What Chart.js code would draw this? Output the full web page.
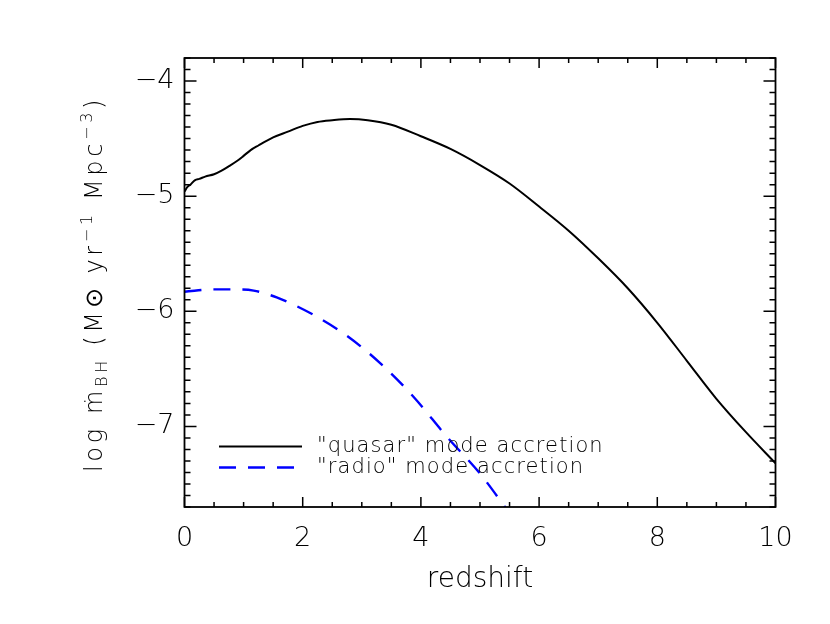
<!DOCTYPE html>
<html><head><meta charset="utf-8">
<script src="https://cdn.jsdelivr.net/npm/chart.js@4.4.1/dist/chart.umd.min.js"></script>
<style>html,body{margin:0;padding:0;background:#fff}canvas{display:block}</style>
</head><body>
<canvas id="c" width="830" height="624"></canvas>
<script>
// ---- data ----
const redshiftQuasar = [0.00,0.05,0.10,0.18,0.25,0.35,0.50,0.62,0.75,0.90,1.00,1.12,1.25,1.50,1.75,2.00,2.25,2.50,2.80,3.10,3.50,4.00,4.50,5.00,5.50,6.00,6.50,7.00,7.50,8.00,8.50,9.00,9.50,10.00];
const logRateQuasar  = [-4.96,-4.92,-4.90,-4.86,-4.85,-4.83,-4.81,-4.78,-4.74,-4.69,-4.65,-4.60,-4.56,-4.49,-4.44,-4.39,-4.355,-4.34,-4.33,-4.34,-4.38,-4.48,-4.59,-4.73,-4.89,-5.09,-5.30,-5.54,-5.80,-6.10,-6.43,-6.76,-7.05,-7.32];
const redshiftRadio  = [0.00,0.50,0.88,1.17,1.56,2.18,2.74,3.31,3.87,4.44,5.00,5.48];
const logRateRadio   = [-5.83,-5.81,-5.81,-5.82,-5.88,-6.03,-6.21,-6.45,-6.74,-7.09,-7.41,-7.74];
const seriesLabels   = ['"quasar" mode accretion', '"radio" mode accretion'];
const xTickValues    = [0,2,4,6,8,10];
const yTickValues    = [-7,-6,-5,-4];
const xTitleText     = 'redshift';
const yTitleParts    = [['log ṁ','n'],['BH','sub'],[' (M⊙ yr','n'],['−1','sup'],[' Mpc','n'],['−3','sup'],[')','n']];

const FAMILY = "'DejaVu Sans', sans-serif";
const WEIGHT = 200;

function pts(xs, ys){ return xs.map((x,i)=>({x:x, y:ys[i]})); }

// frame + inward ticks on all four sides (IDL style)
const frameTicks = {
  id:'frameTicks',
  afterDatasetsDraw(chart){
    const {ctx, chartArea:a, scales:{x,y}} = chart;
    ctx.save();
    ctx.strokeStyle='#000'; ctx.lineWidth=1.8; ctx.lineCap='butt';
    ctx.strokeRect(a.left, a.top, a.right-a.left, a.bottom-a.top);
    ctx.lineWidth=1.5;
    ctx.beginPath();
    for(let k=0;k<=20;k++){
      const px=x.getPixelForValue(k*0.5); const len=(k%4===0)?10:5;
      ctx.moveTo(px,a.bottom); ctx.lineTo(px,a.bottom-len);
      ctx.moveTo(px,a.top); ctx.lineTo(px,a.top+len);
    }
    for(let k=-77;k<=-38;k++){
      const py=y.getPixelForValue(k/10); const len=(k%10===0)?12:6;
      ctx.moveTo(a.left,py); ctx.lineTo(a.left+len,py);
      ctx.moveTo(a.right,py); ctx.lineTo(a.right-len,py);
    }
    ctx.stroke();
    ctx.restore();
  }
};

// legend inside the plot, lower left
const innerLegend = {
  id:'innerLegend',
  afterDraw(chart){
    const ctx=chart.ctx;
    const x0=219, x1=302, tx=317, rows=[446.5,467.5];
    ctx.save();
    ctx.font=WEIGHT+' 21px '+FAMILY;
    ctx.textBaseline='middle'; ctx.textAlign='left'; ctx.fillStyle='#000';
    try{ ctx.letterSpacing='1.1px'; }catch(e){}
    chart.data.datasets.forEach((ds,i)=>{
      const yy=rows[i];
      ctx.strokeStyle=ds.borderColor; ctx.lineWidth=ds.borderWidth;
      ctx.setLineDash(ds.borderDash||[]);
      ctx.beginPath(); ctx.moveTo(x0,yy); ctx.lineTo(x1,yy); ctx.stroke();
      ctx.setLineDash([]);
      ctx.fillText(ds.label, tx, yy);
    });
    ctx.restore();
  }
};

// rotated y-axis title with sub/superscripts
const yTitle = {
  id:'yTitle',
  afterDraw(chart){
    const ctx=chart.ctx;
    const base=24, small=16, target=376, startY=472, baseX=102;
    ctx.save();
    ctx.fillStyle='#000'; ctx.textBaseline='alphabetic'; ctx.textAlign='left';
    const fontFor = s => WEIGHT+' '+(s==='n'?base:small)+'px '+FAMILY;
    let w0=0, n=0;
    yTitleParts.forEach(([t,s])=>{ ctx.font=fontFor(s); w0+=ctx.measureText(t).width; n+=t.length; });
    const sp=Math.max(0,(target-w0)/n);
    ctx.translate(baseX,startY); ctx.rotate(-Math.PI/2);
    let cx=0;
    yTitleParts.forEach(([t,s])=>{
      ctx.font=fontFor(s);
      const dy = s==='sub'?5:(s==='sup'?-10:0);
      try{ ctx.letterSpacing=sp+'px'; }catch(e){}
      ctx.fillText(t,cx,dy);
      try{ ctx.letterSpacing='0px'; }catch(e){}
      cx += ctx.measureText(t).width + sp*t.length;
    });
    ctx.restore();
  }
};

const tickFont = {family:FAMILY, size:27, weight:WEIGHT};

new Chart(document.getElementById('c'), {
  type:'line',
  data:{datasets:[
    {label:seriesLabels[0], data:pts(redshiftQuasar,logRateQuasar), borderColor:'#000000', borderWidth:2, pointRadius:0, cubicInterpolationMode:'monotone', fill:false},
    {label:seriesLabels[1], data:pts(redshiftRadio,logRateRadio), borderColor:'#0000ff', borderWidth:2.4, borderDash:[17,12], pointRadius:0, cubicInterpolationMode:'monotone', fill:false}
  ]},
  options:{
    responsive:false, animation:false, devicePixelRatio:1,
    layout:{padding:{top:58,right:54.5,left:0,bottom:0}},
    plugins:{legend:{display:false}, tooltip:{enabled:false}},
    scales:{
      x:{type:'linear', min:0, max:10,
        afterBuildTicks:s=>{s.ticks=xTickValues.map(v=>({value:v}));},
        afterFit:s=>{s.height=117;},
        grid:{display:false, drawTicks:false}, border:{display:false},
        ticks:{padding:16, font:tickFont, color:'#000', maxRotation:0, autoSkip:false},
        title:{display:true, text:xTitleText, font:{family:FAMILY,size:28,weight:WEIGHT}, color:'#000', padding:{top:0,bottom:27}}
      },
      y:{type:'linear', min:-7.7, max:-3.8,
        afterBuildTicks:s=>{s.ticks=yTickValues.map(v=>({value:v}));},
        afterFit:s=>{s.width=184.5;},
        grid:{display:false, drawTicks:false}, border:{display:false},
        ticks:{padding:10, font:tickFont, color:'#000', autoSkip:false,
          callback:v=>(v<0?'−':'')+Math.abs(v)}
      }
    }
  },
  plugins:[frameTicks, innerLegend, yTitle]
});
</script>
</body></html>
